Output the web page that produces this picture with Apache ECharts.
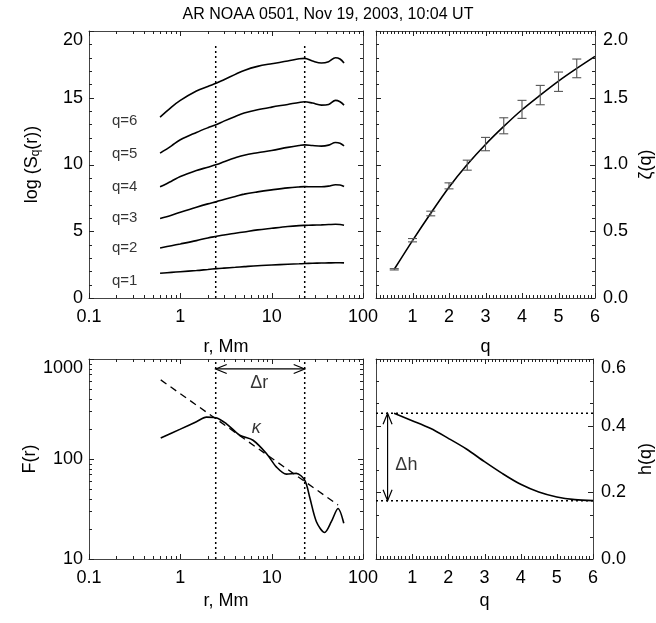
<!DOCTYPE html>
<html>
<head>
<meta charset="utf-8">
<script src="https://cdn.jsdelivr.net/npm/echarts@6/dist/echarts.min.js"></script>
<style>html,body{margin:0;padding:0;background:#fff}#c{width:656px;height:623px}</style>
</head>
<body>
<div id="c"></div>
<script>
// ---------- data ----------
const titleText = 'AR NOAA 0501, Nov 19, 2003, 10:04 UT';
// top-left: log(S_q(r)) vs r
const rGrid = [0.6, 0.8, 1, 1.5, 2, 2.5, 3, 4, 5, 7, 10, 15, 20, 23, 28, 35, 42, 50, 56, 62];
const logS1 = [1.85,1.92,1.97,2.06,2.14,2.2,2.24,2.3,2.35,2.42,2.47,2.53,2.56,2.58,2.6,2.62,2.63,2.64,2.64,2.63];
const logS2 = [3.75,3.92,4.05,4.3,4.5,4.62,4.72,4.85,4.95,5.1,5.22,5.35,5.42,5.44,5.46,5.48,5.5,5.52,5.5,5.45];
const logS3 = [5.95,6.2,6.42,6.8,7.05,7.22,7.38,7.6,7.78,7.95,8.1,8.25,8.32,8.34,8.33,8.33,8.38,8.48,8.47,8.35];
const logS4 = [8.33,8.75,9.1,9.55,9.8,10.0,10.2,10.5,10.7,10.88,11.05,11.28,11.42,11.47,11.42,11.38,11.45,11.65,11.6,11.4];
const logS5 = [10.85,11.4,11.85,12.4,12.75,13.0,13.25,13.6,13.85,14.1,14.3,14.5,14.65,14.7,14.6,14.45,14.5,14.8,14.7,14.45];
const logS6 = [13.55,14.3,14.8,15.5,15.85,16.1,16.35,16.75,17.05,17.35,17.55,17.75,17.92,17.95,17.75,17.6,17.7,18.0,17.9,17.6];
const qLabels = ['q=1','q=2','q=3','q=4','q=5','q=6'];
const qLabelY = [1.3, 3.72, 5.98, 8.36, 10.78, 13.25];
const qLabelR = 0.246;
const rangeR = [2.44, 23];           // inertial range limits
const rangeTopS = 19;

// top-right: zeta(q)
const qErr = [0.5,1,1.5,2,2.5,3,3.5,4,4.5,5,5.5];
const zetaPts = [0.215,0.433,0.633,0.84,0.995,1.153,1.29,1.413,1.52,1.62,1.72];
const zetaErr = [0.005,0.0125,0.0175,0.0225,0.0375,0.05,0.06,0.0675,0.0725,0.0725,0.07];
const qCurve = [0.5,1,1.5,2,2.5,3,3.5,4,4.5,5,5.5,6];
const zetaCurve = [0.215,0.43,0.635,0.83,1.0,1.15,1.285,1.41,1.52,1.625,1.72,1.81];

// bottom-left: F(r)
const rF = [0.61,1.0,1.5,1.93,2.44,3.2,4.47,6.25,8.8,11.3,14.5,18.6,23,26,30.9,38,45,53.3,61.6];
const Fval = [162,199,236,262,259,225,173,154,113,83,70.6,71.8,61.5,42,23.6,18.4,23.6,32,22.8];
const fitR = [0.61, 53.3];
const fitF = [618, 34.7];
const arrowF = 795;
const deltaRPos = [7.3, 571];
const kappaPos = [6.8, 206];

// bottom-right: h(q)
const hQ = [0.5,1,1.5,2,2.5,3,3.5,4,4.5,5,5.5,6];
const hVal = [0.437,0.415,0.392,0.362,0.33,0.292,0.256,0.224,0.201,0.186,0.178,0.175];
const hLevels = [0.437, 0.175];
const arrowQ = 0.32;
const deltaHPos = [0.84, 0.283];

// tick values (axis decoration)
const logMajorR = [0.1, 1, 10, 100];
const logMajorF = [10, 100, 1000];
const sqMajor = [0, 5, 10, 15, 20];
const zetaMajor = [0, 0.5, 1, 1.5, 2];
const hMajor = [0, 0.2, 0.4, 0.6];
const qMajor = [0, 1, 2, 3, 4, 5, 6];

// ---------- helpers ----------
const FONT = '"Liberation Sans", Arial, Helvetica, sans-serif';
const LC = '#222';
const zip = (xs, ys) => xs.map((x, i) => [x, ys[i]]);
const plain = v => String(v);

// minor tick generators
const logMinors = (majors) => { const out = []; for (let i = 0; i < majors.length - 1; i++) for (let k = 2; k <= 9; k++) out.push(+(majors[i] * k).toPrecision(6)); return out; };
const linMinors = (majors, n) => { const out = []; for (let i = 0; i < majors.length - 1; i++) { const s = (majors[i + 1] - majors[i]) / n; for (let k = 1; k < n; k++) out.push(majors[i] + k * s); } return out; };

function axisBase(extra) {
  return Object.assign({
    show: true,
    axisLine: { show: true, onZero: false, lineStyle: { color: '#444', width: 1 } },
    axisTick: { show: false },
    minorTick: { show: false },
    splitLine: { show: false },
    nameTextStyle: { color: '#000', fontSize: 18, fontFamily: FONT }
  }, extra);
}
function mirror(a) { a.axisLabel = { show: false }; a.name = ''; return a; }

const grids = [
  { left: 89, top: 31, width: 274, height: 267 },
  { left: 376, top: 31, width: 220.5, height: 267 },
  { left: 89, top: 359, width: 274, height: 200 },
  { left: 376, top: 359, width: 220.5, height: 200 }
];

const logX = (g, pos, name, gap) => axisBase({ type: 'log', logBase: 10, min: 0.1, max: 100, gridIndex: g, position: pos,
  name: name, nameLocation: 'middle', nameGap: gap,
  axisLabel: { show: true, color: '#000', fontSize: 18, fontFamily: FONT, margin: 10, formatter: plain } });
const qX = (g, pos, gap) => axisBase({ type: 'value', min: 0, max: 6, interval: 1, gridIndex: g, position: pos,
  name: 'q', nameLocation: 'middle', nameGap: gap,
  axisLabel: { show: true, color: '#000', fontSize: 18, fontFamily: FONT, margin: 10, showMinLabel: false } });

const xAxes = [
  logX(0, 'bottom', 'r, Mm', 40), mirror(logX(0, 'top', '', 0)),
  qX(1, 'bottom', 40), mirror(qX(1, 'top', 0)),
  logX(2, 'bottom', 'r, Mm', 33), mirror(logX(2, 'top', '', 0)),
  qX(3, 'bottom', 33), mirror(qX(3, 'top', 0))
];

const ylab = (fmt) => ({ show: true, color: '#000', fontSize: 18, fontFamily: FONT, margin: 6, formatter: fmt, verticalAlignMaxLabel: 'top' });
const ySq = (pos) => axisBase({ type: 'value', min: 0, max: 20, interval: 5, gridIndex: 0, position: pos,
  name: '{a|log (S}{s|q}{a|(r))}', nameLocation: 'middle', nameGap: 47, nameRotate: 90,
  nameTextStyle: { rich: { a: { fontSize: 18, fontFamily: FONT, color: '#000' }, s: { fontSize: 12, fontFamily: FONT, color: '#000', verticalAlign: 'bottom', padding: [8, 0, 0, 0] } } },
  axisLabel: ylab(plain) });
const yZeta = (pos) => axisBase({ type: 'value', min: 0, max: 2, interval: 0.5, gridIndex: 1, position: pos,
  name: 'ζ(q)', nameLocation: 'middle', nameGap: 42, nameRotate: 90,
  axisLabel: Object.assign(ylab(v => v.toFixed(1)), { margin: 8 }) });
const yF = (pos) => axisBase({ type: 'log', logBase: 10, min: 10, max: 1000, gridIndex: 2, position: pos,
  name: 'F(r)', nameLocation: 'middle', nameGap: 50, nameRotate: 90,
  axisLabel: ylab(plain) });
const yH = (pos) => axisBase({ type: 'value', min: 0, max: 0.6, interval: 0.2, gridIndex: 3, position: pos,
  name: 'h(q)', nameLocation: 'middle', nameGap: 44, nameRotate: 90,
  axisLabel: Object.assign(ylab(v => v.toFixed(1)), { margin: 8 }) });

const yAxes = [
  ySq('left'), mirror(ySq('right')),
  yZeta('right'), mirror(yZeta('left')),
  yF('left'), mirror(yF('right')),
  yH('right'), mirror(yH('left'))
];

const lineS = (xi, yi, data, extra) => Object.assign({
  type: 'line', xAxisIndex: xi, yAxisIndex: yi, data: data, showSymbol: false, symbol: 'none',
  smooth: 0.35, lineStyle: { color: '#000', width: 1.6 }, silent: true, animation: false, z: 3
}, extra || {});

const textS = (xi, yi, data, style) => ({
  type: 'scatter', xAxisIndex: xi, yAxisIndex: yi, symbolSize: 0.1, silent: true, animation: false,
  data: data, itemStyle: { color: 'transparent' },
  label: Object.assign({ show: true, position: 'inside', formatter: p => p.data[2], color: '#000', fontFamily: FONT, fontSize: 18 }, style)
});

// box ticks drawn inside each panel: item = [xVal, yVal, dir(0 = x tick, 1 = y tick), length]
function tickRender(params, api) {
  const cs = params.coordSys;
  const p = api.coord([api.value(0), api.value(1)]);
  const len = api.value(3);
  const st = { stroke: LC, lineWidth: 1 };
  if (api.value(2) === 0) {
    const x = Math.round(p[0]) + 0.5, yb = cs.y + cs.height, yt = cs.y;
    return { type: 'group', children: [
      { type: 'line', shape: { x1: x, y1: yb, x2: x, y2: yb - len }, style: st },
      { type: 'line', shape: { x1: x, y1: yt, x2: x, y2: yt + len }, style: st }
    ] };
  }
  const y = Math.round(p[1]) + 0.5, xl = cs.x, xr = cs.x + cs.width;
  return { type: 'group', children: [
    { type: 'line', shape: { x1: xl, y1: y, x2: xl + len, y2: y }, style: st },
    { type: 'line', shape: { x1: xr, y1: y, x2: xr - len, y2: y }, style: st }
  ] };
}
function tickSeries(xi, yi, xMaj, xMin, yMaj, yMin, x0, y0) {
  const d = [];
  xMaj.forEach(v => d.push([v, y0, 0, 5]));
  xMin.forEach(v => d.push([v, y0, 0, 3]));
  yMaj.forEach(v => d.push([x0, v, 1, 5]));
  yMin.forEach(v => d.push([x0, v, 1, 3]));
  return { type: 'custom', xAxisIndex: xi, yAxisIndex: yi, renderItem: tickRender, silent: true, animation: false,
    encode: { x: 0, y: 1 }, data: d, z: 5 };
}

function arrowRender(params, api) {
  const p1 = api.coord([api.value(0), api.value(1)]);
  const p2 = api.coord([api.value(2), api.value(3)]);
  const dx = p2[0] - p1[0], dy = p2[1] - p1[1];
  const L = Math.sqrt(dx * dx + dy * dy), ux = dx / L, uy = dy / L;
  const hl = 11, hw = 4.5;
  const head = (p, s) => [
    [p[0] + s * ux * hl - uy * hw, p[1] + s * uy * hl + ux * hw],
    p,
    [p[0] + s * ux * hl + uy * hw, p[1] + s * uy * hl - ux * hw]
  ];
  const st = { stroke: '#000', lineWidth: 1.2, fill: null };
  return { type: 'group', children: [
    { type: 'line', shape: { x1: p1[0], y1: p1[1], x2: p2[0], y2: p2[1] }, style: st },
    { type: 'polyline', shape: { points: head(p1, 1) }, style: st },
    { type: 'polyline', shape: { points: head(p2, -1) }, style: st }
  ] };
}

function errRender(params, api) {
  const x = api.value(0), y = api.value(1), e = api.value(2);
  const t = api.coord([x, y + e]), b = api.coord([x, y - e]);
  const w = 4.5;
  const st = { stroke: '#555', lineWidth: 1.1 };
  return { type: 'group', children: [
    { type: 'line', shape: { x1: t[0], y1: t[1], x2: b[0], y2: b[1] }, style: st },
    { type: 'line', shape: { x1: t[0] - w, y1: t[1], x2: t[0] + w, y2: t[1] }, style: st },
    { type: 'line', shape: { x1: b[0] - w, y1: b[1], x2: b[0] + w, y2: b[1] }, style: st }
  ] };
}

const dotted = { color: '#000', width: 1.5, type: [2, 3] };
const series = [];
// ticks
series.push(tickSeries(0, 0, logMajorR, logMinors(logMajorR), sqMajor, linMinors(sqMajor, 5), 0.1, 0));
series.push(tickSeries(2, 2, qMajor, linMinors(qMajor, 10), zetaMajor, linMinors(zetaMajor, 5), 0, 0));
series.push(tickSeries(4, 4, logMajorR, logMinors(logMajorR), logMajorF, logMinors(logMajorF), 0.1, 10));
series.push(tickSeries(6, 6, qMajor, linMinors(qMajor, 10), hMajor, linMinors(hMajor, 3), 0, 0));

[logS1, logS2, logS3, logS4, logS5, logS6].forEach(v => series.push(lineS(0, 0, zip(rGrid, v))));
rangeR.forEach(r => series.push(lineS(0, 0, [[r, 0], [r, rangeTopS]], { smooth: false, lineStyle: dotted })));
series.push(textS(0, 0, qLabels.map((t, i) => [qLabelR, qLabelY[i], t]), { fontSize: 15 }));

series.push(lineS(2, 2, zip(qCurve, zetaCurve), { smooth: 0.3 }));
series.push({ type: 'custom', xAxisIndex: 2, yAxisIndex: 2, renderItem: errRender, silent: true, animation: false,
  encode: { x: 0, y: 1 }, data: qErr.map((q, i) => [q, zetaPts[i], zetaErr[i]]), z: 4 });

series.push(lineS(4, 4, zip(rF, Fval), { smooth: 0.3 }));
series.push(lineS(4, 4, zip(fitR, fitF), { smooth: false, lineStyle: { color: '#000', width: 1.3, type: [7, 5] } }));
rangeR.forEach(r => series.push(lineS(4, 4, [[r, 10], [r, 1000]], { smooth: false, lineStyle: dotted })));
series.push({ type: 'custom', xAxisIndex: 4, yAxisIndex: 4, renderItem: arrowRender, silent: true, animation: false,
  encode: { x: [0, 2], y: [1, 3] }, data: [[rangeR[0], arrowF, rangeR[1], arrowF]] });
series.push(textS(4, 4, [[deltaRPos[0], deltaRPos[1], 'Δr']], {}));
series.push(textS(4, 4, [[kappaPos[0], kappaPos[1], 'κ']], { fontStyle: 'italic' }));

series.push(lineS(6, 6, zip(hQ, hVal), { smooth: 0.3 }));
hLevels.forEach(h => series.push(lineS(6, 6, [[0, h], [6, h]], { smooth: false, lineStyle: dotted })));
series.push({ type: 'custom', xAxisIndex: 6, yAxisIndex: 6, renderItem: arrowRender, silent: true, animation: false,
  encode: { x: [0, 2], y: [1, 3] }, data: [[arrowQ, hLevels[0], arrowQ, hLevels[1]]] });
series.push(textS(6, 6, [[deltaHPos[0], deltaHPos[1], 'Δh']], {}));

const chart = echarts.init(document.getElementById('c'), null, { renderer: 'canvas' });
chart.setOption({
  animation: false,
  backgroundColor: '#fff',
  title: { text: titleText, left: 'center', top: 2, textStyle: { fontSize: 16, fontWeight: 'normal', color: '#000', fontFamily: FONT } },
  grid: grids,
  xAxis: xAxes,
  yAxis: yAxes,
  series: series
});
</script>
</body>
</html>
